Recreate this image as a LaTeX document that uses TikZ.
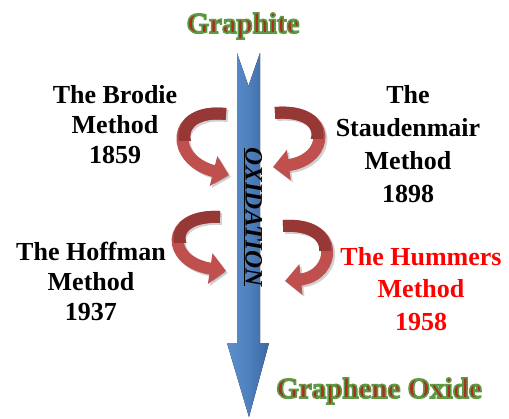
\documentclass[tikz,border=0pt]{standalone}
\usepackage{fontspec}
\setmainfont{Liberation Serif}
\usetikzlibrary{arrows.meta}
\definecolor{arrowblue}{HTML}{4F81BD}
\definecolor{arrowbluelt}{HTML}{5C8FD0}
\definecolor{arrowbluedk}{HTML}{3C68A3}
\definecolor{riblight}{HTML}{C0504D}
\definecolor{ribdarkc}{HTML}{963836}
\definecolor{gred}{HTML}{A8301C}
\newcommand\greenedge[1]{{\color{gred}\special{pdf:literal direct 2 Tr 1.6 w 0.37 0.60 0.27 RG}#1\special{pdf:literal direct 0 Tr}}}
\newcommand\myribbon[2]{%
  \draw[ribshadow] #1;
  \draw[rib] #1;
  \begin{scope}\clip (0,0) rectangle (509,#2);\draw[rib,draw=ribdarkc,-] #1;\end{scope}}
\tikzset{
  method/.style={font=\bfseries\fontsize{26}{30}\selectfont, align=center, inner sep=0pt},
  title/.style={font=\bfseries\fontsize{29}{33}\selectfont, inner sep=0pt, anchor=base},
  rib/.style={line width=12pt, draw=riblight, -{Triangle[width=30pt,length=16pt]}},
  ribshadow/.style={line width=12pt, draw=black, opacity=0.18, -{Triangle[width=30pt,length=16pt]}, shift={(2,2)}},
}
\begin{document}
\begin{tikzpicture}[x=1pt,y=-1pt]
\useasboundingbox[fill=white] (0,0) rectangle (509,418);
% main blue arrow
\fill[left color=arrowbluelt, right color=arrowbluedk, middle color=arrowblue]
  (237,53) -- (248.5,86) -- (260,53) -- (260,343) -- (269,343) -- (249,417)
  -- (227,343) -- (237,343) -- cycle;
\node[rotate=-90, anchor=base, inner sep=0pt,
      font=\bfseries\itshape\fontsize{25}{28}\selectfont] (ox) at (245.5,217)
  {\underline{OXIDATION}};
% curved arrows
\myribbon{(226,114) .. controls (170,108) and (170,160) .. (229,175)}{140}
\myribbon{(275,113) .. controls (334,108) and (330,160) .. (273,167)}{138}
\myribbon{(220,217) .. controls (164,214) and (166,262) .. (226,271)}{242}
\myribbon{(283,226) .. controls (342,222) and (336,276) .. (285,281)}{250}
% titles
\node[title] (gr) at (243,33) {\greenedge{Graphite}};
\node[title] (go) at (379,398) {\greenedge{Graphene Oxide}};
% methods
\node[method] (brodie) at (115,124.5) {The Brodie\\Method\\1859};
\node[method, font=\bfseries\fontsize{26}{33}\selectfont] (staud) at (408,144) {The\\Staudenmair\\Method\\1898};
\node[method, font=\bfseries\fontsize{26}{30}\selectfont] (hoff) at (91,281.5) {The Hoffman\\Method\\1937};
\node[method, text=red, font=\bfseries\fontsize{26}{32.5}\selectfont] (humm) at (421,289) {The Hummers\\Method\\1958};
\end{tikzpicture}
\end{document}
